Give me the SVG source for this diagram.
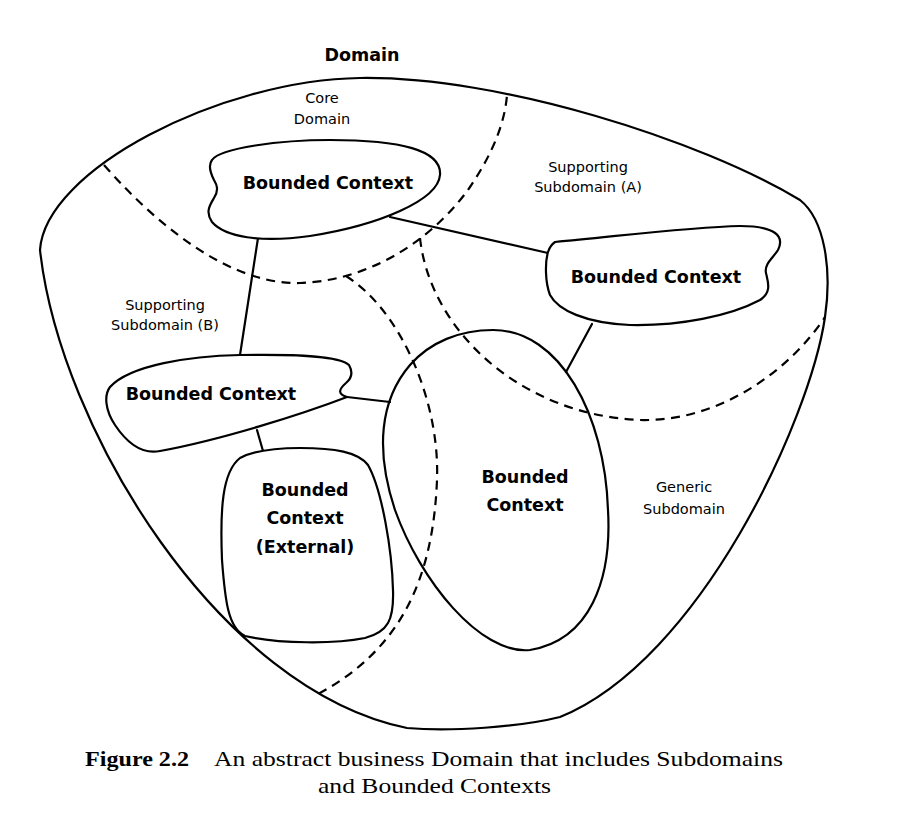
<svg xmlns="http://www.w3.org/2000/svg" width="898" height="827" viewBox="0 0 898 827">
  <style>
    .line { fill: none; stroke: #000; stroke-width: 2.2; stroke-linejoin: round; stroke-linecap: round; }
    .dash { fill: none; stroke: #000; stroke-width: 2.2; stroke-dasharray: 9 6.5; }
    .shape { fill: #fff; stroke: #000; stroke-width: 2.2; stroke-linejoin: round; }
    .bc { font-family: "DejaVu Sans", "Liberation Sans", sans-serif; font-weight: bold; font-size: 17.5px; fill: #000; text-anchor: middle; }
    .lbl { font-family: "DejaVu Sans", "Liberation Sans", sans-serif; font-size: 14.5px; fill: #000; text-anchor: middle; }
    .title { font-family: "DejaVu Sans", "Liberation Sans", sans-serif; font-weight: bold; font-size: 17.5px; fill: #000; text-anchor: middle; }
    .cap { font-family: "Liberation Serif", "Times New Roman", serif; font-size: 22px; fill: #000; }
  </style>
  <rect width="898" height="827" fill="#fff"/>

  <g id="domain">
    <path class="line" d="M 40 250 C 45 170, 220 80, 360 78 C 500 76, 700 140, 800 200 C 825 220, 832 270, 825 317 C 810 420, 700 660, 560 717 C 520 727, 450 732, 407 728 C 220 690, 60 430, 40 250 Z"/>
    <text class="title" x="362" y="61">Domain</text>
  </g>

  <g id="subdomains">
    <path id="core-boundary" class="dash" d="M 104 165 C 170 240, 240 285, 300 283 C 380 280, 440 230, 470 187 C 495 150, 505 120, 507 95"/>
    <path id="supporting-a-boundary" class="dash" d="M 420 238 C 430 330, 520 415, 640 420 C 720 422, 790 370, 825 317"/>
    <path id="generic-boundary" class="dash" d="M 346 276 C 400 310, 440 400, 437 480 C 433 580, 400 650, 318 694"/>
    <text class="lbl" x="322" y="103">Core</text>
    <text class="lbl" x="322" y="124">Domain</text>
    <text class="lbl" x="588" y="172">Supporting</text>
    <text class="lbl" x="588" y="192">Subdomain (A)</text>
    <text class="lbl" x="165" y="310">Supporting</text>
    <text class="lbl" x="165" y="330">Subdomain (B)</text>
    <text class="lbl" x="684" y="492">Generic</text>
    <text class="lbl" x="684" y="514">Subdomain</text>
  </g>

  <g id="connectors">
    <line class="line" x1="390" y1="217" x2="548" y2="253"/>
    <line class="line" x1="258" y1="238" x2="240" y2="355"/>
    <line class="line" x1="592" y1="324" x2="566" y2="372"/>
    <line class="line" x1="347" y1="397" x2="390" y2="402"/>
    <line class="line" x1="257" y1="430" x2="263" y2="451"/>
  </g>

  <g id="bc-core">
    <path class="shape" d="M 212 160 C 220 148, 280 140, 330 140 C 400 140, 442 150, 440 175 C 438 200, 380 225, 310 236 C 260 243, 225 237, 212 222 C 205 212, 210 205, 214 198 C 219 190, 217 185, 214 180 C 210 172, 208 165, 212 160 Z"/>
    <text class="bc" x="328" y="189">Bounded Context</text>
  </g>

  <g id="bc-supporting-a">
    <path class="shape" d="M 555 242 C 620 236, 690 227, 740 226 C 775 226, 785 236, 778 250 C 773 258, 764 264, 766 273 C 768 282, 772 292, 760 300 C 730 316, 680 326, 630 325 C 585 323, 558 310, 550 295 C 545 282, 545 262, 548 252 C 550 246, 552 244, 555 242 Z"/>
    <text class="bc" x="656" y="283">Bounded Context</text>
  </g>

  <g id="bc-supporting-b">
    <path class="shape" d="M 110 387 C 130 365, 190 356, 240 355 C 300 354, 340 356, 349 365 C 353 372, 352 378, 346 383 C 338 390, 338 394, 347 397 C 300 415, 220 440, 160 451 C 140 455, 125 440, 115 425 C 105 410, 104 395, 110 387 Z"/>
    <text class="bc" x="211" y="400">Bounded Context</text>
  </g>

  <g id="bc-external">
    <path class="shape" d="M 300 448 C 335 448, 358 452, 368 465 C 382 490, 392 550, 393 590 C 394 620, 388 632, 365 638 C 335 644, 280 644, 245 636 C 228 628, 225 600, 222 560 C 220 510, 222 472, 240 458 C 255 450, 275 448, 300 448 Z"/>
    <text class="bc" x="305" y="496">Bounded</text>
    <text class="bc" x="305" y="524">Context</text>
    <text class="bc" x="305" y="553">(External)</text>
  </g>

  <g id="bc-generic">
    <path class="line" d="M 493 330 C 560 330, 605 415, 608 510 C 612 580, 590 640, 530 650 C 480 655, 420 580, 395 510 C 375 450, 380 400, 410 365 C 430 342, 460 330, 493 330 Z"/>
    <text class="bc" x="525" y="483">Bounded</text>
    <text class="bc" x="525" y="511">Context</text>
  </g>

  <g id="caption">
    <text class="cap" x="85" y="766" font-weight="bold" textLength="104" lengthAdjust="spacingAndGlyphs">Figure 2.2</text>
    <text class="cap" x="214" y="766" textLength="569" lengthAdjust="spacingAndGlyphs">An abstract business Domain that includes Subdomains</text>
    <text class="cap" x="318" y="793" textLength="233" lengthAdjust="spacingAndGlyphs">and Bounded Contexts</text>
  </g>
</svg>
